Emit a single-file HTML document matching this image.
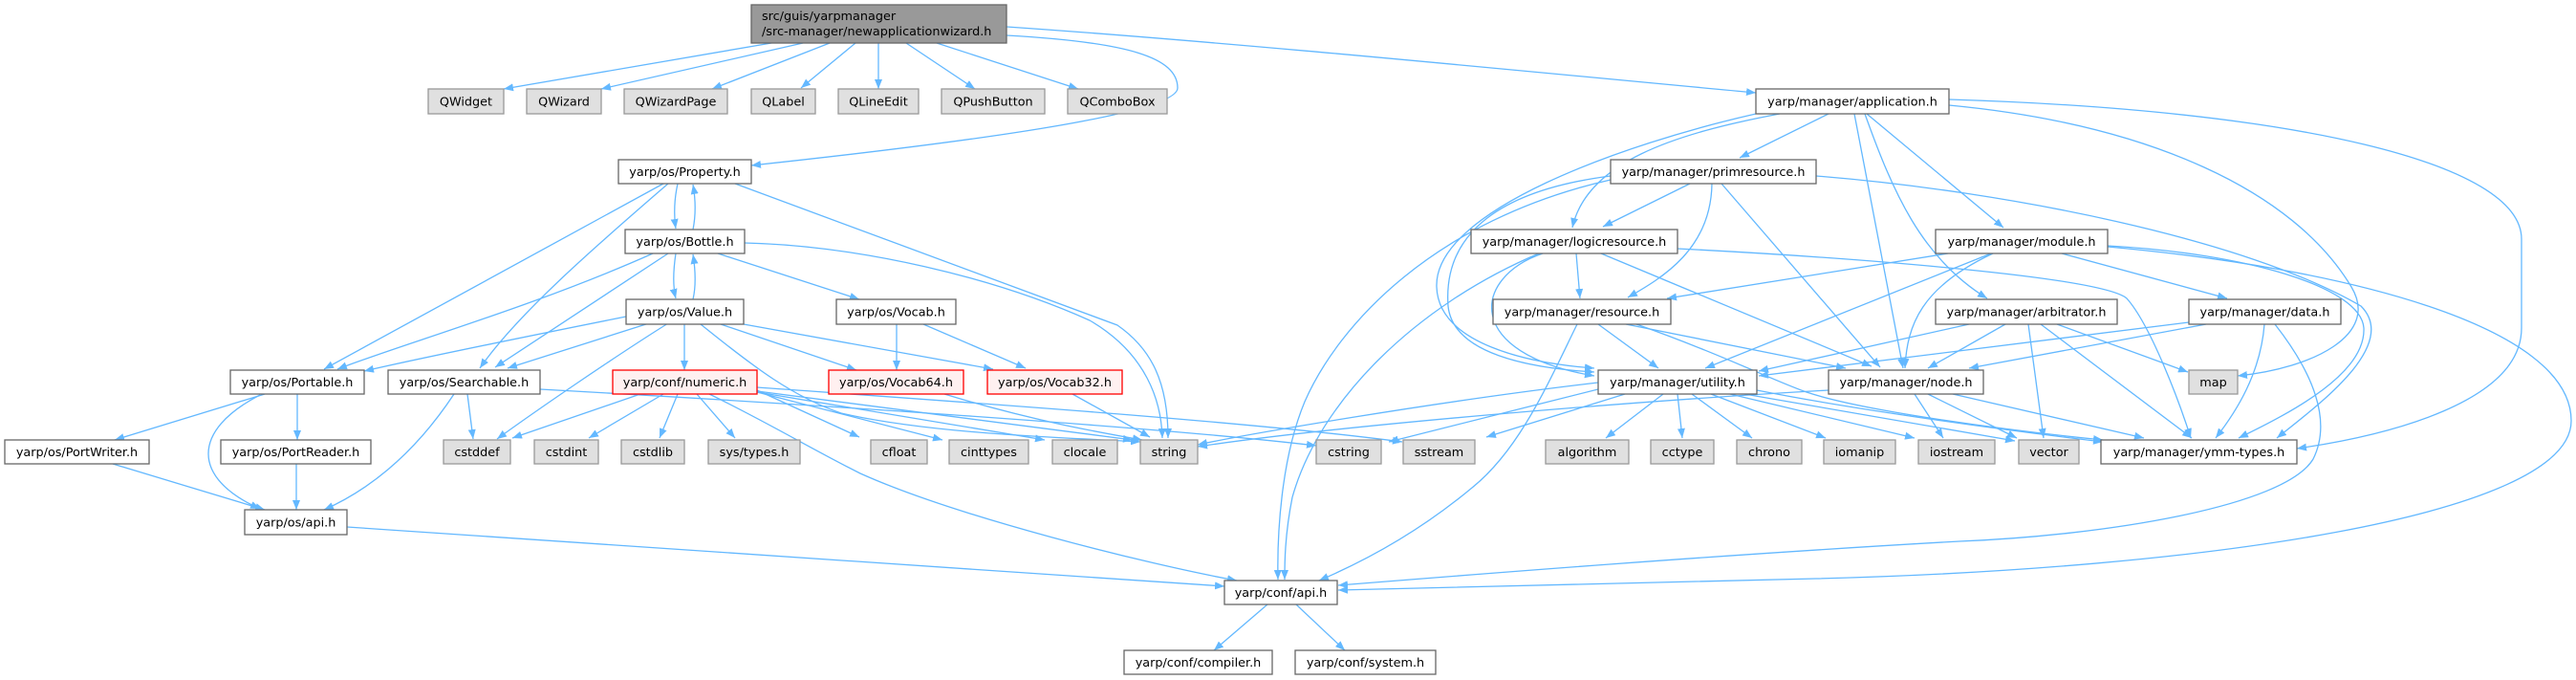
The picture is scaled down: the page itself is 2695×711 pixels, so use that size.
<!DOCTYPE html>
<html>
<head>
<meta charset="utf-8">
<style>
  html, body { margin: 0; padding: 0; background: #ffffff; }
  svg { display: block; }
  .e { fill: none; stroke: #63b8ff; stroke-width: 1.3; marker-end: url(#a); }
  .n { fill: #ffffff; stroke: #666666; stroke-width: 1.3; }
  .x { fill: #e0e0e0; stroke: #999999; stroke-width: 1.3; }
  .r { fill: #fff0f0; stroke: #ff0000; stroke-width: 1.3; }
  .t { fill: #999999; stroke: #666666; stroke-width: 1.3; }
  text { font-family: "DejaVu Sans", "Liberation Sans", sans-serif; font-size: 12.8px; fill: #000000; }
</style>
</head>
<body>
<svg width="2695" height="711" viewBox="0 0 2695 711" xmlns="http://www.w3.org/2000/svg">
<defs>
  <marker id="a" markerUnits="userSpaceOnUse" markerWidth="12" markerHeight="10" refX="10" refY="4" orient="auto">
    <path d="M0,0 L10,4 L0,8 z" fill="#63b8ff"/>
  </marker>
</defs>

<!-- ============ EDGES ============ -->
<g>
<!-- title -->
<path class="e" d="M807,45 L527,93"/>
<path class="e" d="M840,45 L629,93"/>
<path class="e" d="M868,45 L745,93"/>
<path class="e" d="M895,45 L838,92"/>
<path class="e" d="M919,45 L919,93"/>
<path class="e" d="M948,45 L1020,93"/>
<path class="e" d="M980,45 L1128,93"/>
<path class="e" d="M1053,28 C1300,45 1600,75 1837,97"/>
<path class="e" d="M1053,37 C1180,44 1232,60 1232,92 C1232,120 1000,150 786,173"/>

<!-- Property -->
<path class="e" d="M709,192 C705,210 705,225 707,239"/>
<path class="e" d="M725,240 C728,225 728,210 725,193"/>
<path class="e" d="M694,192 L339,386"/>
<path class="e" d="M699,192 C620,260 540,330 502,385"/>
<path class="e" d="M769,192 L1169,340 C1205,365 1222,400 1222,458"/>

<!-- Bottle -->
<path class="e" d="M707,265 C704,285 704,300 707,312"/>
<path class="e" d="M725,313 C728,300 728,285 725,266"/>
<path class="e" d="M683,265 C560,320 420,360 353,386"/>
<path class="e" d="M699,265 L518,384"/>
<path class="e" d="M751,265 L899,313"/>
<path class="e" d="M779,254 C900,257 1040,290 1140,335 C1200,370 1215,420 1216,458"/>

<!-- Value -->
<path class="e" d="M716,339 L716,387"/>
<path class="e" d="M754,339 L896,387"/>
<path class="e" d="M778,339 L1039,386"/>
<path class="e" d="M733,339 C790,385 830,415 880,432 C980,455 1130,458 1193,462"/>
<path class="e" d="M655,331 C560,350 450,372 381,388"/>
<path class="e" d="M679,338 L531,385"/>
<path class="e" d="M699,338 C640,375 560,430 520,459"/>

<!-- Vocab -->
<path class="e" d="M938,339 L938,387"/>
<path class="e" d="M966,339 L1073,385"/>

<!-- Searchable -->
<path class="e" d="M489,412 L495,459"/>
<path class="e" d="M475,412 C430,480 380,515 339,533"/>
<path class="e" d="M565,407 C800,420 1200,445 1377,466"/>

<!-- numeric -->
<path class="e" d="M670,412 L536,458"/>
<path class="e" d="M694,412 L616,458"/>
<path class="e" d="M709,412 L690,458"/>
<path class="e" d="M729,412 L769,458"/>
<path class="e" d="M742,412 C800,440 850,470 900,495 C1000,540 1200,590 1294,607"/>
<path class="e" d="M792,408 L899,457"/>
<path class="e" d="M792,410 L986,460"/>
<path class="e" d="M792,410 L1093,460"/>
<path class="e" d="M792,409 C950,430 1100,450 1185,460"/>
<path class="e" d="M792,405 C1000,420 1300,440 1467,462"/>

<!-- Vocab64 / Vocab32 -->
<path class="e" d="M988,412 C1080,440 1150,452 1195,460"/>
<path class="e" d="M1122,412 L1203,457"/>

<!-- Portable etc -->
<path class="e" d="M277,412 L120,460"/>
<path class="e" d="M272,413 C200,450 200,500 272,532"/>
<path class="e" d="M311,412 L311,460"/>
<path class="e" d="M310,485 L310,533"/>
<path class="e" d="M118,485 L277,533"/>
<path class="e" d="M363,551 L1281,613"/>

<!-- conf/api.h -->
<path class="e" d="M1326,632 L1270,680"/>
<path class="e" d="M1356,632 L1407,680"/>

<!-- application -->
<path class="e" d="M1913,119 L1820,165"/>
<path class="e" d="M1862,119 C1750,140 1660,170 1645,238"/>
<path class="e" d="M1837,119 C1700,150 1500,220 1503,300 C1505,360 1600,380 1668,385"/>
<path class="e" d="M1940,119 L1991,385"/>
<path class="e" d="M1951,119 C1980,200 2010,270 2079,312"/>
<path class="e" d="M1953,119 L2096,238"/>
<path class="e" d="M2039,110 C2250,130 2400,200 2460,300 C2490,350 2420,385 2341,393"/>
<path class="e" d="M2039,104 C2400,115 2638,170 2638,250 L2638,343 C2638,420 2500,455 2403,469"/>

<!-- primresource -->
<path class="e" d="M1768,192 L1677,237"/>
<path class="e" d="M1791,192 C1790,260 1740,290 1703,311"/>
<path class="e" d="M1801,192 L1967,384"/>
<path class="e" d="M1685,184 C1560,200 1510,250 1515,320 C1520,370 1600,385 1668,389"/>
<path class="e" d="M1685,188 C1500,230 1400,340 1365,420 C1340,480 1336,560 1337,606"/>
<path class="e" d="M1900,184 C2100,200 2350,250 2470,320 C2510,360 2430,420 2382,458"/>

<!-- logicresource -->
<path class="e" d="M1649,265 L1653,312"/>
<path class="e" d="M1675,265 L1958,383"/>
<path class="e" d="M1614,265 C1540,290 1530,370 1668,393"/>
<path class="e" d="M1610,265 C1480,320 1380,420 1352,520 C1344,560 1344,590 1344,606"/>
<path class="e" d="M1755,260 C1950,270 2200,290 2225,312 C2250,340 2280,420 2292,458"/>

<!-- resource -->
<path class="e" d="M1672,339 L1735,385"/>
<path class="e" d="M1701,339 L1931,385"/>
<path class="e" d="M1712,339 C1800,370 1860,400 1890,410 C1950,430 2100,450 2200,460"/>
<path class="e" d="M1650,339 C1620,400 1590,470 1540,510 C1480,560 1420,590 1380,607"/>

<!-- module -->
<path class="e" d="M2038,265 L1744,312"/>
<path class="e" d="M2083,265 L1784,385"/>
<path class="e" d="M2085,265 C2010,300 1995,340 1993,385"/>
<path class="e" d="M2157,265 L2330,312"/>
<path class="e" d="M2205,257 C2350,265 2470,300 2473,343 C2475,390 2400,430 2342,458"/>
<path class="e" d="M2205,258 C2450,280 2690,340 2690,440 C2690,540 2300,595 1900,605 C1700,610 1500,615 1400,617"/>

<!-- arbitrator -->
<path class="e" d="M2060,339 L1840,388"/>
<path class="e" d="M2098,339 L2017,385"/>
<path class="e" d="M2152,339 L2289,389"/>
<path class="e" d="M2122,339 L2138,458"/>
<path class="e" d="M2135,339 L2293,458"/>

<!-- data -->
<path class="e" d="M2290,337 L1840,393"/>
<path class="e" d="M2308,339 L2060,385"/>
<path class="e" d="M2369,339 C2365,390 2340,430 2318,458"/>
<path class="e" d="M2380,339 C2420,390 2440,440 2420,480 C2390,530 2200,560 2050,566 C1800,580 1550,600 1400,612"/>

<!-- utility -->
<path class="e" d="M1672,400 C1500,420 1300,455 1253,465"/>
<path class="e" d="M1680,405 C1600,425 1500,450 1453,462"/>
<path class="e" d="M1700,412 L1555,457"/>
<path class="e" d="M1740,412 L1680,458"/>
<path class="e" d="M1755,412 L1760,458"/>
<path class="e" d="M1770,412 L1833,458"/>
<path class="e" d="M1790,412 L1910,458"/>
<path class="e" d="M1810,412 L2003,458"/>
<path class="e" d="M1825,412 L2108,461"/>
<path class="e" d="M1838,408 C1950,430 2100,450 2200,462"/>

<!-- node -->
<path class="e" d="M1913,408 C1700,420 1400,445 1253,467"/>
<path class="e" d="M2003,412 L2033,458"/>
<path class="e" d="M2017,412 L2110,458"/>
<path class="e" d="M2043,412 L2243,458"/>
</g>

<!-- ============ NODES ============ -->
<g>
<!-- title -->
<rect class="t" x="786" y="5" width="267" height="40"/>
<text x="797" y="21">src/guis/yarpmanager</text>
<text x="797" y="37">/src-manager/newapplicationwizard.h</text>

<!-- row 1 -->
<rect class="x" x="448" y="93" width="79" height="26"/><text x="487.5" y="110.5" text-anchor="middle">QWidget</text>
<rect class="x" x="551" y="93" width="78" height="26"/><text x="590" y="110.5" text-anchor="middle">QWizard</text>
<rect class="x" x="653" y="93" width="108" height="26"/><text x="707" y="110.5" text-anchor="middle">QWizardPage</text>
<rect class="x" x="786" y="93" width="67" height="26"/><text x="819.5" y="110.5" text-anchor="middle">QLabel</text>
<rect class="x" x="877" y="93" width="84" height="26"/><text x="919" y="110.5" text-anchor="middle">QLineEdit</text>
<rect class="x" x="985" y="93" width="108" height="26"/><text x="1039" y="110.5" text-anchor="middle">QPushButton</text>
<rect class="x" x="1117" y="93" width="104" height="26"/><text x="1169" y="110.5" text-anchor="middle">QComboBox</text>
<rect class="n" x="1837" y="93" width="202" height="26"/><text x="1938" y="110.5" text-anchor="middle">yarp/manager/application.h</text>

<!-- row 2 -->
<rect class="n" x="647" y="167" width="139" height="25"/><text x="716.5" y="184" text-anchor="middle">yarp/os/Property.h</text>
<rect class="n" x="1685" y="167" width="215" height="25"/><text x="1792.5" y="184" text-anchor="middle">yarp/manager/primresource.h</text>

<!-- row 3 -->
<rect class="n" x="654" y="240" width="125" height="25"/><text x="716.5" y="257" text-anchor="middle">yarp/os/Bottle.h</text>
<rect class="n" x="1539" y="240" width="216" height="25"/><text x="1647" y="257" text-anchor="middle">yarp/manager/logicresource.h</text>
<rect class="n" x="2025" y="240" width="180" height="25"/><text x="2115" y="257" text-anchor="middle">yarp/manager/module.h</text>

<!-- row 4 -->
<rect class="n" x="655" y="313" width="123" height="26"/><text x="716.5" y="330.5" text-anchor="middle">yarp/os/Value.h</text>
<rect class="n" x="875" y="313" width="125" height="26"/><text x="937.5" y="330.5" text-anchor="middle">yarp/os/Vocab.h</text>
<rect class="n" x="1562" y="313" width="186" height="26"/><text x="1655" y="330.5" text-anchor="middle">yarp/manager/resource.h</text>
<rect class="n" x="2025" y="313" width="190" height="26"/><text x="2120" y="330.5" text-anchor="middle">yarp/manager/arbitrator.h</text>
<rect class="n" x="2290" y="313" width="159" height="26"/><text x="2369.5" y="330.5" text-anchor="middle">yarp/manager/data.h</text>

<!-- row 5 -->
<rect class="n" x="241" y="387" width="140" height="25"/><text x="311" y="404" text-anchor="middle">yarp/os/Portable.h</text>
<rect class="n" x="406" y="387" width="159" height="25"/><text x="485.5" y="404" text-anchor="middle">yarp/os/Searchable.h</text>
<rect class="r" x="641" y="387" width="151" height="25"/><text x="716.5" y="404" text-anchor="middle">yarp/conf/numeric.h</text>
<rect class="r" x="867" y="387" width="141" height="25"/><text x="937.5" y="404" text-anchor="middle">yarp/os/Vocab64.h</text>
<rect class="r" x="1033" y="387" width="141" height="25"/><text x="1103.5" y="404" text-anchor="middle">yarp/os/Vocab32.h</text>
<rect class="n" x="1672" y="387" width="166" height="25"/><text x="1755" y="404" text-anchor="middle">yarp/manager/utility.h</text>
<rect class="n" x="1913" y="387" width="162" height="25"/><text x="1994" y="404" text-anchor="middle">yarp/manager/node.h</text>
<rect class="x" x="2290" y="387" width="51" height="25"/><text x="2315.5" y="404" text-anchor="middle">map</text>

<!-- row 6 -->
<rect class="n" x="5" y="460" width="151" height="25"/><text x="80.5" y="477" text-anchor="middle">yarp/os/PortWriter.h</text>
<rect class="n" x="231" y="460" width="157" height="25"/><text x="309.5" y="477" text-anchor="middle">yarp/os/PortReader.h</text>
<rect class="x" x="464" y="460" width="70" height="25"/><text x="499" y="477" text-anchor="middle">cstddef</text>
<rect class="x" x="559" y="460" width="67" height="25"/><text x="592.5" y="477" text-anchor="middle">cstdint</text>
<rect class="x" x="650" y="460" width="66" height="25"/><text x="683" y="477" text-anchor="middle">cstdlib</text>
<rect class="x" x="741" y="460" width="96" height="25"/><text x="789" y="477" text-anchor="middle">sys/types.h</text>
<rect class="x" x="911" y="460" width="59" height="25"/><text x="940.5" y="477" text-anchor="middle">cfloat</text>
<rect class="x" x="993" y="460" width="83" height="25"/><text x="1034.5" y="477" text-anchor="middle">cinttypes</text>
<rect class="x" x="1101" y="460" width="68" height="25"/><text x="1135" y="477" text-anchor="middle">clocale</text>
<rect class="x" x="1193" y="460" width="60" height="25"/><text x="1223" y="477" text-anchor="middle">string</text>
<rect class="x" x="1377" y="460" width="68" height="25"/><text x="1411" y="477" text-anchor="middle">cstring</text>
<rect class="x" x="1468" y="460" width="75" height="25"/><text x="1505.5" y="477" text-anchor="middle">sstream</text>
<rect class="x" x="1617" y="460" width="87" height="25"/><text x="1660.5" y="477" text-anchor="middle">algorithm</text>
<rect class="x" x="1727" y="460" width="66" height="25"/><text x="1760" y="477" text-anchor="middle">cctype</text>
<rect class="x" x="1817" y="460" width="68" height="25"/><text x="1851" y="477" text-anchor="middle">chrono</text>
<rect class="x" x="1908" y="460" width="75" height="25"/><text x="1945.5" y="477" text-anchor="middle">iomanip</text>
<rect class="x" x="2007" y="460" width="80" height="25"/><text x="2047" y="477" text-anchor="middle">iostream</text>
<rect class="x" x="2112" y="460" width="63" height="25"/><text x="2143.5" y="477" text-anchor="middle">vector</text>
<rect class="n" x="2198" y="460" width="205" height="25"/><text x="2300.5" y="477" text-anchor="middle">yarp/manager/ymm-types.h</text>

<!-- row 7-9 -->
<rect class="n" x="256" y="533" width="107" height="26"/><text x="309.5" y="550.5" text-anchor="middle">yarp/os/api.h</text>
<rect class="n" x="1281" y="607" width="118" height="25"/><text x="1340" y="624" text-anchor="middle">yarp/conf/api.h</text>
<rect class="n" x="1176" y="680" width="155" height="25"/><text x="1253.5" y="697" text-anchor="middle">yarp/conf/compiler.h</text>
<rect class="n" x="1355" y="680" width="147" height="25"/><text x="1428.5" y="697" text-anchor="middle">yarp/conf/system.h</text>
</g>
</svg>
</body>
</html>
